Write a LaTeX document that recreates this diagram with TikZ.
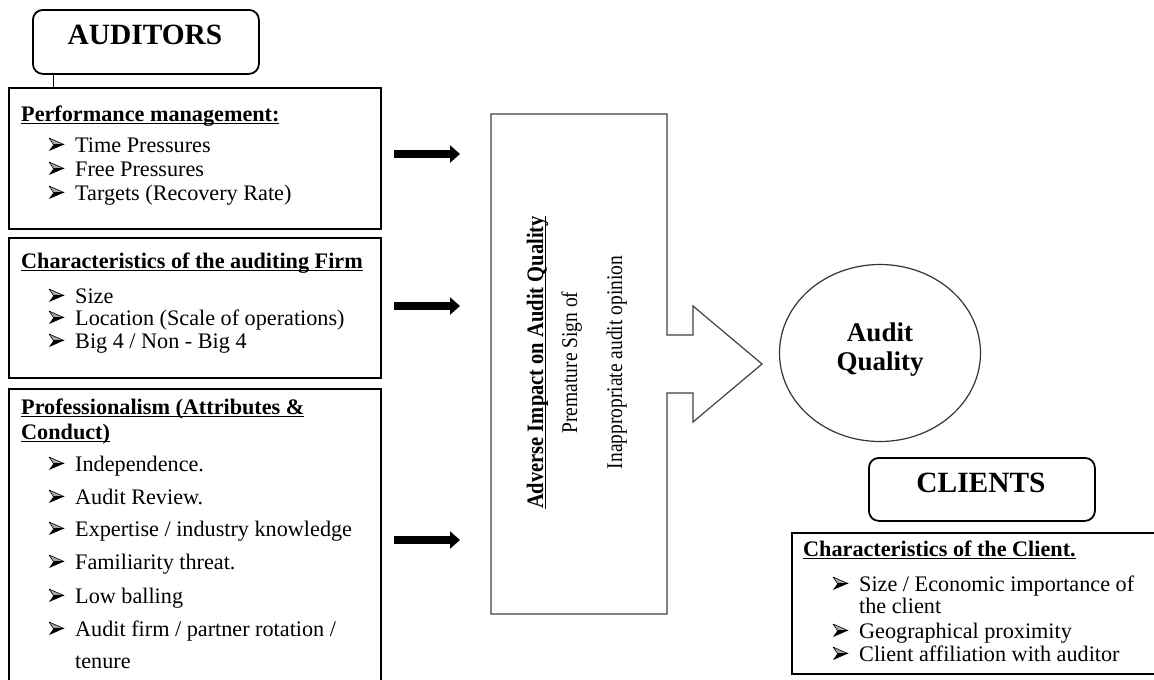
\documentclass[tikz,border=0pt]{standalone}
\usepackage{fontspec}
\setmainfont{Liberation Serif}
\usetikzlibrary{arrows.meta,shapes.geometric,calc}

% Word-like underline that sits just under the baseline
\newcommand\ulbar[1]{\setbox0\hbox{#1}\rlap{\rule[-3pt]{\wd0}{1.4pt}}\box0}
% taller glyphs for the upright-reading labels of the central box
\newcommand\tallish[1]{\scalebox{1}[1.15]{#1}}

\tikzset{
  frame/.style={draw=black, line width=2pt, inner sep=0pt, anchor=north west},
  headbox/.style={draw=black, line width=1.8pt, rounded corners=10pt, inner sep=0pt, anchor=north west},
  txt/.style={inner sep=0pt, anchor=base west, font=\fontsize{22.2}{24}\selectfont},
  head/.style={inner sep=0pt, anchor=base west, font=\fontsize{22.2}{24}\selectfont\bfseries},
  big/.style={inner sep=0pt, anchor=base, font=\fontsize{29.4}{30}\selectfont\bfseries},
  mid/.style={inner sep=0pt, anchor=base, font=\fontsize{27}{28}\selectfont\bfseries},
  vtxt/.style={inner sep=0pt, anchor=base, rotate=90, font=\fontsize{19.5}{20}\selectfont},
  vhead/.style={inner sep=0pt, anchor=base, rotate=90, font=\fontsize{20.5}{21}\selectfont\bfseries},
  blockarrow/.style={line width=8pt, -{Triangle[length=10pt,width=17pt]}},
  callout/.style={draw=black!75, line width=1.2pt, line join=miter},
  % 3-D arrowhead bullet, origin on the text baseline
  bulletmark/.pic={
    \fill[black] (0,-1) -- (4.5,-7.5) -- (15,-7.5) -- cycle;
    \filldraw[fill=black!35, draw=black, line width=0.6pt, line join=round]
      (0,-14) -- (15,-7.5) -- (4.5,-7.5) -- cycle;
  },
}
% bulleted line: name, bullet x, baseline y, text
\newcommand\entry[4]{%
  \node[txt] (#1) at (#2+26,#3) {#4};
  \pic at (#2,#3) {bulletmark};}

\begin{document}
\begin{tikzpicture}[x=1pt, y=-1pt]
\useasboundingbox (0,0) rectangle (1154,680);
\clip (0,0) rectangle (1154,680);

% ---------------- auditors side ----------------
\node[headbox, minimum width=226pt, minimum height=64pt] (auditors) at (32,9) {};
\node[big] (auditorsT) at (145,44) {AUDITORS};

\node[frame, minimum width=372pt, minimum height=141pt] (perf) at (8,87) {};
\node[frame, minimum width=372pt, minimum height=140pt] (firm) at (8,237) {};
\node[frame, minimum width=372pt, minimum height=320pt] (prof) at (8,388) {};

\coordinate (linkTop) at ($(auditors.south west)+(21pt,0)$);
\draw[line width=1pt] (linkTop) -- (linkTop |- perf.north);

% performance management
\node[head] (perfH) at (21,121) {\ulbar{Performance management:}};
\entry{perf1}{49}{152}{Time Pressures}
\entry{perf2}{49}{176}{Free Pressures}
\entry{perf3}{49}{200}{Targets (Recovery Rate)}

% characteristics of the firm
\node[head] (firmH) at (21,268) {\ulbar{Characteristics of the auditing Firm}};
\entry{firm1}{49}{303}{Size}
\entry{firm2}{49}{325}{Location (Scale of operations)}
\entry{firm3}{49}{348}{Big 4 / Non - Big 4}

% professionalism
\node[head] (profH1) at (21,414) {\ulbar{Professionalism (Attributes \&}};
\node[head] (profH2) at (21,439) {\ulbar{Conduct)}};
\entry{prof1}{49}{471}{Independence.}
\entry{prof2}{49}{504}{Audit Review.}
\entry{prof3}{49}{536}{Expertise / industry knowledge}
\entry{prof4}{49}{569}{Familiarity threat.}
\entry{prof5}{49}{603}{Low balling}
\entry{prof6}{49}{636}{Audit firm / partner rotation /}
\node[txt] (prof6b) at (75,668) {tenure};

% ---------------- block arrows ----------------
\coordinate (a1s) at (394,154); \coordinate (a1e) at (460,154);
\coordinate (a2s) at (394,306); \coordinate (a2e) at (460,306);
\coordinate (a3s) at (394,540); \coordinate (a3e) at (460,540);
\draw[blockarrow] (a1s) -- (a1e);
\draw[blockarrow] (a2s) -- (a2e);
\draw[blockarrow] (a3s) -- (a3e);

% ---------------- central callout ----------------
\draw[callout] (491,114) -- (667,114) -- (667,335) -- (693,335) -- (693,306)
  -- (762,364) -- (693,422) -- (693,393) -- (667,393) -- (667,614)
  -- (491,614) -- cycle;
\node[vhead] (impact) at (543,362.5) {\tallish{\ulbar{Adverse Impact on Audit Quality}}};
\node[vtxt] (sign) at (577,362.5) {\tallish{Premature Sign of}};
\node[vtxt] (opinion) at (622,362.5) {\tallish{Inappropriate audit opinion}};

% ---------------- outcome ----------------
\node[draw=black!80, line width=1.2pt, ellipse, minimum width=201pt, minimum height=177pt, inner sep=0pt] (quality) at (880,353) {};
\node[mid] (qualityT1) at (880,341) {Audit};
\node[mid] (qualityT2) at (880,370) {Quality};

% ---------------- clients side ----------------
\node[headbox, minimum width=226pt, minimum height=63pt] (clients) at (868,457) {};
\node[big] (clientsT) at (981,492) {CLIENTS};

\node[frame, minimum width=379pt, minimum height=141pt] (client) at (791,532) {};
\node[head] (clientH) at (803,556) {\ulbar{Characteristics of the Client.}};
\entry{client1}{833}{591}{Size / Economic importance of}
\node[txt] (client1b) at (859,613) {the client};
\entry{client2}{833}{638}{Geographical proximity}
\entry{client3}{833}{661}{Client affiliation with auditor}
\end{tikzpicture}
\end{document}
